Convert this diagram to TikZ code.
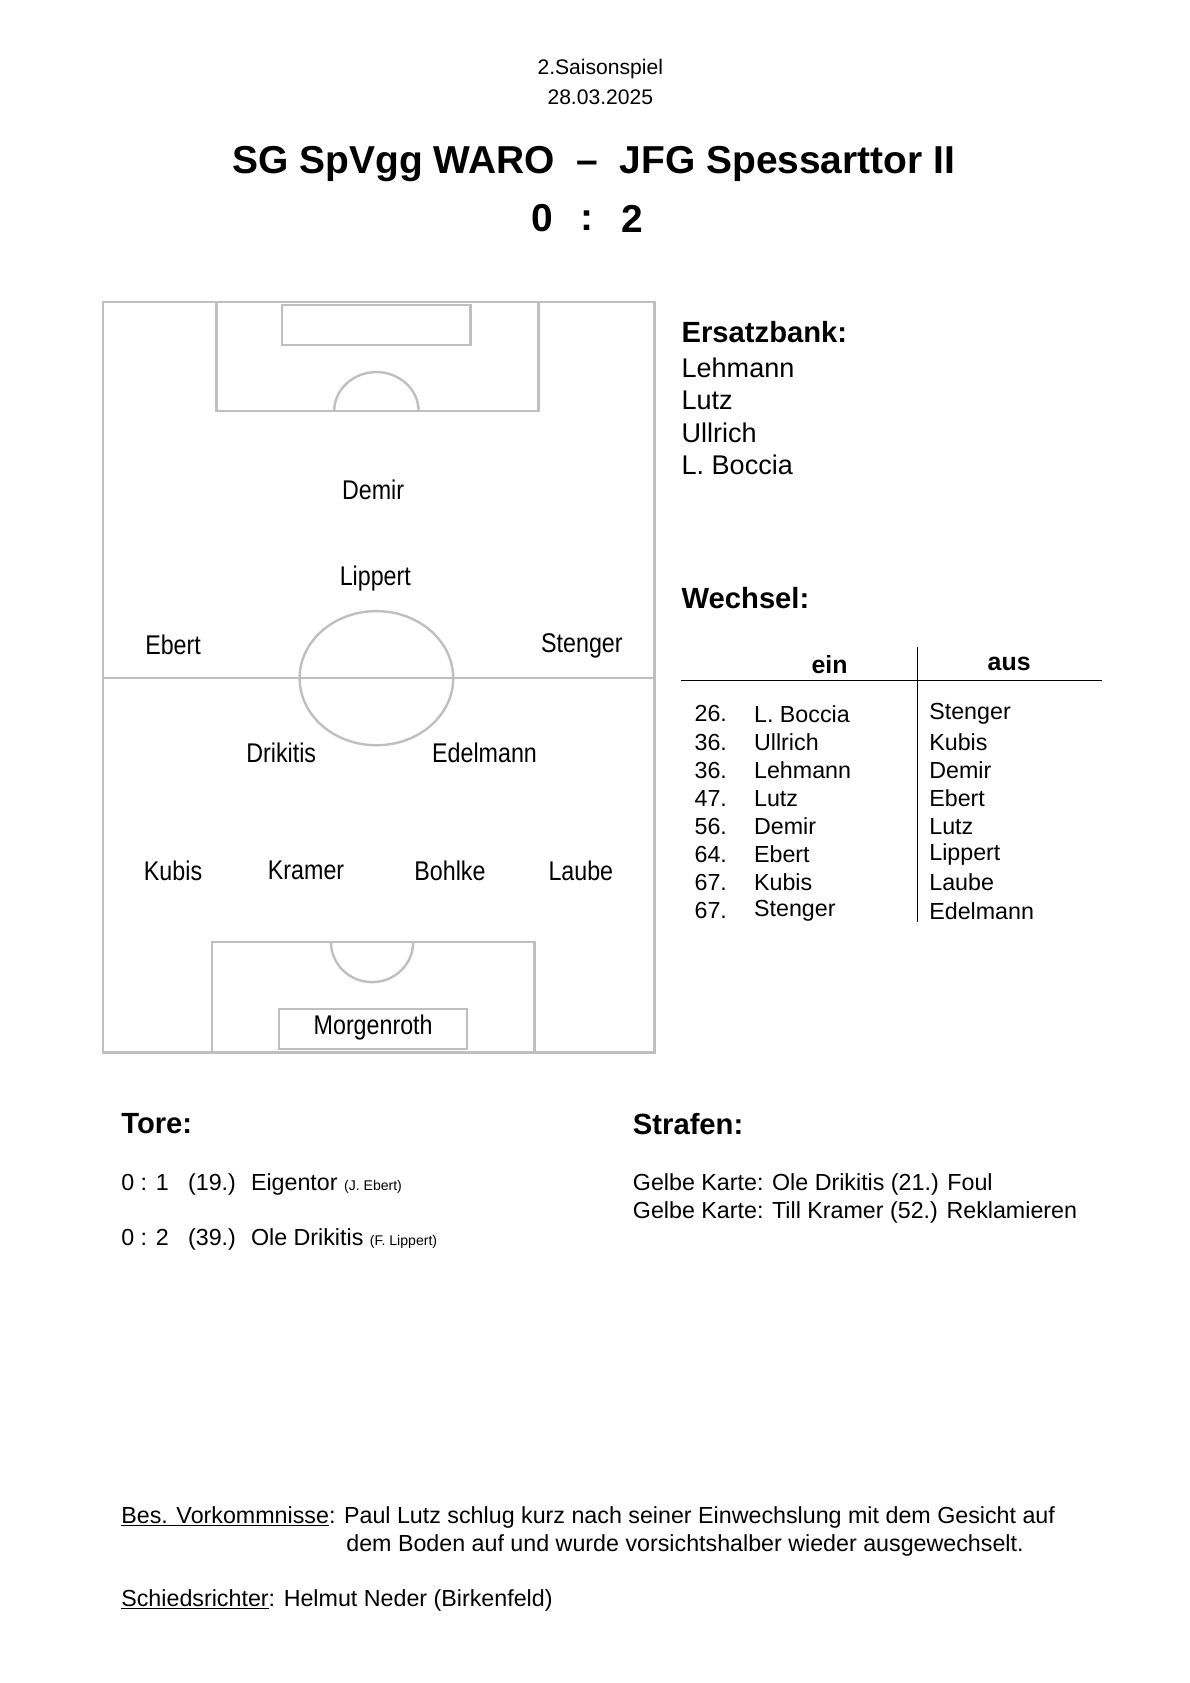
\documentclass[tikz,border=0pt]{standalone}
\usepackage{fontspec}
\setmainfont{Liberation Sans}
\begin{document}
\begin{tikzpicture}[x=1pt,y=-1pt,
  fld/.style={draw=black!25,line width=2.2pt},
  pl/.style={font=\fontsize{25}{28}\selectfont,xscale=0.86,inner sep=0},
  tx/.style={font=\fontsize{21.5}{25}\selectfont,anchor=west,inner sep=0},
  big/.style={font=\fontsize{25}{30}\selectfont,anchor=west,inner sep=0},
  hd/.style={font=\bfseries\fontsize{27}{32}\selectfont,anchor=west,inner sep=0}]
\useasboundingbox[fill=white] (0,0) rectangle (1100,1556);
% header
\node[font=\fontsize{19.5}{22}\selectfont] (h1) at (555,64) {2.Saisonspiel};
\node[font=\fontsize{19.5}{22}\selectfont] (h2) at (555,90) {28.03.2025};
\node[font=\bfseries\fontsize{36}{40}\selectfont] (title) at (549,152) {SG SpVgg WARO \ -- \ JFG Spessarttor II};
\node[font=\bfseries\fontsize{36}{40}\selectfont] (s0) at (501,202) {0};
\node[font=\bfseries\fontsize{36}{40}\selectfont] (sc) at (543,204) {:};
\node[font=\bfseries\fontsize{36}{40}\selectfont] (s2) at (585,202) {2};
% field
\draw[fld] (95,279) rectangle (605,973);
\draw[fld] (95,627) -- (605,627);
\draw[fld] (200,279) rectangle (498,380);
\draw[fld] (261,282) rectangle (435,319);
\draw[fld] (309,380) arc[start angle=180,end angle=360,x radius=39,y radius=36];
\draw[fld] (348,627) ellipse[x radius=71,y radius=62];
\draw[fld] (196,871) rectangle (494,973);
\draw[fld] (258,933) rectangle (432,970);
\draw[fld] (306,871) arc[start angle=180,end angle=0,x radius=38,y radius=37];
\node[pl] (p1) at (345,453) {Demir};
\node[pl] (p2) at (347,535) {Lippert};
\node[pl] (p3) at (160,596) {Ebert};
\node[pl] (p4) at (538,597) {Stenger};
\node[pl] (p5) at (260,696) {Drikitis};
\node[pl] (p6) at (448,696) {Edelmann};
\node[pl] (p7) at (160,805) {Kubis};
\node[pl] (p8) at (283,805) {Kramer};
\node[pl] (p9) at (416,805) {Bohlke};
\node[pl] (p10) at (537,805) {Laube};
\node[pl] (p11) at (345,950) {Morgenroth};
% bench
\node[hd] (eb) at (630,307) {Ersatzbank:};
\node[big] (b1) at (630,340) {Lehmann};
\node[big] (b2) at (630,370) {Lutz};
\node[big] (b3) at (630,400) {Ullrich};
\node[big] (b4) at (630,430) {L. Boccia};
\node[hd] (we) at (630,553) {Wechsel:};
\node[font=\bfseries\fontsize{23}{26}\selectfont] (ein) at (767,614) {ein};
\node[font=\bfseries\fontsize{23}{26}\selectfont] (aus) at (933,614) {aus};
\coordinate (l1) at (630,629); \coordinate (l2) at (1019,629);
\coordinate (v1) at (848,598); \coordinate (v2) at (848,852);
\draw[line width=0.8pt] (l1) -- (l2);
\draw[line width=0.8pt] (v1) -- (v2);
\foreach \n/\a/\b/\c in {0/26./L. Boccia/Stenger,1/36./Ullrich/Kubis,2/36./Lehmann/Demir,3/47./Lutz/Ebert,4/56./Demir/Lutz,5/64./Ebert/Lippert,6/67./Kubis/Laube,7/67./Stenger/Edelmann}{
  \node[tx] (n\n) at (642,660+26*\n) {\a};
  \node[tx] (i\n) at (697,660+26*\n) {\b};
  \node[tx] (o\n) at (859,660+26*\n) {\c};
}
% goals
\node[hd] (tore) at (112,1039) {Tore:};
\node[tx] (g1) at (112,1095) {0 : 1 \ \ (19.) \ Eigentor {\fontsize{13}{15}\selectfont (J. Ebert)}};
\node[tx] (g2) at (112,1146) {0 : 2 \ \ (39.) \ Ole Drikitis {\fontsize{13}{15}\selectfont (F. Lippert)}};
\node[hd] (str) at (585,1039) {Strafen:};
\node[tx] (k1) at (585,1095) {Gelbe Karte: Ole Drikitis (21.) Foul};
\node[tx] (k2) at (585,1121) {Gelbe Karte: Till Kramer (52.) Reklamieren};
% bottom
\node[tx] (v1t) at (112,1403) {\underline{Bes. Vorkommnisse}: Paul Lutz schlug kurz nach seiner Einwechslung mit dem Gesicht auf};
\node[tx] (v2t) at (320,1429) {dem Boden auf und wurde vorsichtshalber wieder ausgewechselt.};
\node[tx] (sr) at (112,1480) {\underline{Schiedsrichter}: Helmut Neder (Birkenfeld)};
\end{tikzpicture}
\end{document}
